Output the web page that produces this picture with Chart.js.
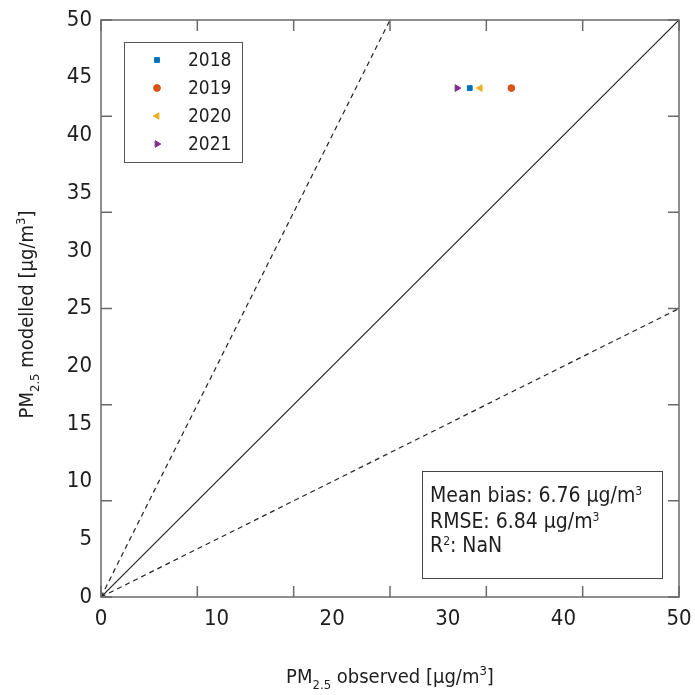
<!DOCTYPE html>
<html><head><meta charset="utf-8">
<script src="https://cdn.jsdelivr.net/npm/chart.js@4/dist/chart.umd.min.js"></script>
<style>html,body{margin:0;padding:0;background:#fff}#wrap{width:695px;height:695px;position:relative}</style>
</head><body><div id="wrap"><canvas id="c" width="695" height="695"></canvas></div>
<script>
const FONT = "'DejaVu Sans Condensed','DejaVu Sans',sans-serif";
const TEXT = '#1e1e1e';

// ---- data ----
const years = ['2018', '2019', '2020', '2021'];
const observed = [31.9, 35.5, 32.8, 30.8];
const modelled = [44.1, 44.1, 44.1, 44.1];
const seriesColors = ['#0072BD', '#D95319', '#EDB120', '#7E2F8E'];
const seriesMarkers = ['rect', 'circle', 'triangle', 'triangle'];
const seriesRotation = [0, 0, -90, 90];
const seriesRadius = [3.4, 3.4, 3.8, 3.8];

const xTickLabels = [0, 10, 20, 30, 40, 50];
const yTickLabels = [0, 5, 10, 15, 20, 25, 30, 35, 40, 45, 50];
const tickMarks = [0, 8.333, 16.667, 25, 33.333, 41.667, 50];

const oneToOneX = [0, 50], oneToOneY = [0, 50];
const upperX = [0, 25], upperY = [0, 50];
const lowerX = [0, 50], lowerY = [0, 25];

const statMeanBias = '6.76';
const statRMSE = '6.84';
const statR2 = 'NaN';

// ---- helpers ----
function pts(xs, ys) { return xs.map((x, i) => ({x: x, y: ys[i]})); }

function richText(ctx, parts, x, y, align) {
  let total = 0;
  parts.forEach(p => { ctx.font = p.size + 'px ' + FONT; p.w = ctx.measureText(p.t).width; total += p.w; });
  let cx = align === 'center' ? x - total / 2 : x;
  ctx.textAlign = 'left';
  ctx.textBaseline = 'alphabetic';
  parts.forEach(p => { ctx.font = p.size + 'px ' + FONT; ctx.fillText(p.t, cx, y + (p.dy || 0)); cx += p.w; });
}

function drawMarker(ctx, style, rot, r, color, x, y) {
  ctx.save();
  ctx.fillStyle = color; ctx.strokeStyle = color; ctx.lineWidth = 1;
  ctx.beginPath();
  if (style === 'rect') {
    const s = r * Math.SQRT1_2;
    ctx.rect(x - s, y - s, 2 * s, 2 * s);
  } else if (style === 'circle') {
    ctx.arc(x, y, r, 0, Math.PI * 2);
  } else {
    let a = rot * Math.PI / 180;
    ctx.moveTo(x + Math.sin(a) * r, y - Math.cos(a) * r);
    a += 2 * Math.PI / 3;
    ctx.lineTo(x + Math.sin(a) * r, y - Math.cos(a) * r);
    a += 2 * Math.PI / 3;
    ctx.lineTo(x + Math.sin(a) * r, y - Math.cos(a) * r);
    ctx.closePath();
  }
  ctx.fill(); ctx.stroke();
  ctx.restore();
}

const decor = {
  id: 'decor',
  afterDatasetsDraw(chart) {
    const ctx = chart.ctx, a = chart.chartArea;
    const xs = chart.scales.x, ys = chart.scales.y;
    ctx.save();
    // frame
    ctx.strokeStyle = '#6a6a6a';
    ctx.lineWidth = 1.5;
    ctx.strokeRect(a.left, a.top, a.right - a.left, a.bottom - a.top);
    // inward tick marks on all sides
    const tl = 11;
    ctx.beginPath();
    tickMarks.forEach(v => {
      const px = xs.getPixelForValue(v), py = ys.getPixelForValue(v);
      ctx.moveTo(px, a.bottom); ctx.lineTo(px, a.bottom - tl);
      ctx.moveTo(px, a.top); ctx.lineTo(px, a.top + tl);
      ctx.moveTo(a.left, py); ctx.lineTo(a.left + tl, py);
      ctx.moveTo(a.right, py); ctx.lineTo(a.right - tl, py);
    });
    ctx.stroke();

    // legend
    ctx.fillStyle = '#fff';
    ctx.fillRect(124, 42, 118, 120);
    ctx.strokeStyle = '#555';
    ctx.lineWidth = 1;
    ctx.strokeRect(124.5, 42.5, 118, 120);
    years.forEach((yr, i) => {
      const cy = 60 + 28 * i;
      drawMarker(ctx, seriesMarkers[i], seriesRotation[i], seriesRadius[i], seriesColors[i], 157, cy);
      ctx.fillStyle = TEXT;
      ctx.font = '19px ' + FONT;
      ctx.textAlign = 'left'; ctx.textBaseline = 'middle';
      ctx.fillText(yr, 188, cy + 1);
    });

    // stats box
    ctx.fillStyle = '#fff';
    ctx.fillRect(422, 471, 240, 107);
    ctx.strokeStyle = '#444';
    ctx.strokeRect(422.5, 471.5, 240, 107);
    ctx.fillStyle = TEXT;
    richText(ctx, [{t: 'Mean bias: ' + statMeanBias + ' \u00b5g/m', size: 21}, {t: '3', size: 12, dy: -7}], 430, 502, 'left');
    richText(ctx, [{t: 'RMSE: ' + statRMSE + ' \u00b5g/m', size: 21}, {t: '3', size: 12, dy: -7}], 430, 528, 'left');
    richText(ctx, [{t: 'R', size: 21}, {t: '2', size: 12, dy: -7}, {t: ': ' + statR2, size: 21}], 430, 552, 'left');

    // axis titles
    richText(ctx, [{t: 'PM', size: 20}, {t: '2.5', size: 13, dy: 6}, {t: ' observed [\u00b5g/m', size: 20}, {t: '3', size: 13, dy: -8}, {t: ']', size: 20}], (a.left + a.right) / 2, 683, 'center');
    ctx.save();
    ctx.translate(33, (a.top + a.bottom) / 2 + 6);
    ctx.rotate(-Math.PI / 2);
    richText(ctx, [{t: 'PM', size: 20}, {t: '2.5', size: 13, dy: 6}, {t: ' modelled [\u00b5g/m', size: 20}, {t: '3', size: 13, dy: -8}, {t: ']', size: 20}], 0, 0, 'center');
    ctx.restore();
    ctx.restore();
  }
};

const datasets = [
  {type: 'line', label: '1:1', data: pts(oneToOneX, oneToOneY), borderColor: '#222', borderWidth: 1.2, pointRadius: 0, fill: false},
  {type: 'line', label: '2:1', data: pts(upperX, upperY), borderColor: '#222', borderWidth: 1.2, borderDash: [5, 4], pointRadius: 0, fill: false},
  {type: 'line', label: '1:2', data: pts(lowerX, lowerY), borderColor: '#222', borderWidth: 1.2, borderDash: [5, 4], pointRadius: 0, fill: false}
];
years.forEach((yr, i) => {
  datasets.push({
    type: 'scatter', label: yr,
    data: [{x: observed[i], y: modelled[i]}],
    pointStyle: seriesMarkers[i], rotation: seriesRotation[i], pointRadius: seriesRadius[i],
    backgroundColor: seriesColors[i], borderColor: seriesColors[i], borderWidth: 1
  });
});

new Chart(document.getElementById('c'), {
  data: {datasets: datasets},
  options: {
    responsive: false, animation: false, devicePixelRatio: 1,
    layout: {padding: {top: 20, right: 16, left: 0, bottom: 0}},
    plugins: {legend: {display: false}, tooltip: {enabled: false}},
    scales: {
      x: {
        type: 'linear', min: 0, max: 50,
        afterBuildTicks: s => { s.ticks = xTickLabels.map(v => ({value: v})); },
        afterFit: s => { s.height = 98; s.paddingLeft = 0; s.paddingRight = 0; },
        grid: {display: false, drawTicks: false}, border: {display: false},
        ticks: {font: {family: FONT, size: 22}, color: TEXT, padding: 9, maxRotation: 0, autoSkip: false}
      },
      y: {
        type: 'linear', min: 0, max: 50,
        afterBuildTicks: s => { s.ticks = yTickLabels.map(v => ({value: v})); },
        afterFit: s => { s.width = 101; s.paddingTop = 0; s.paddingBottom = 0; },
        grid: {display: false, drawTicks: false}, border: {display: false},
        ticks: {font: {family: FONT, size: 22}, color: TEXT, padding: 9, autoSkip: false}
      }
    }
  },
  plugins: [decor]
});
</script></body></html>
